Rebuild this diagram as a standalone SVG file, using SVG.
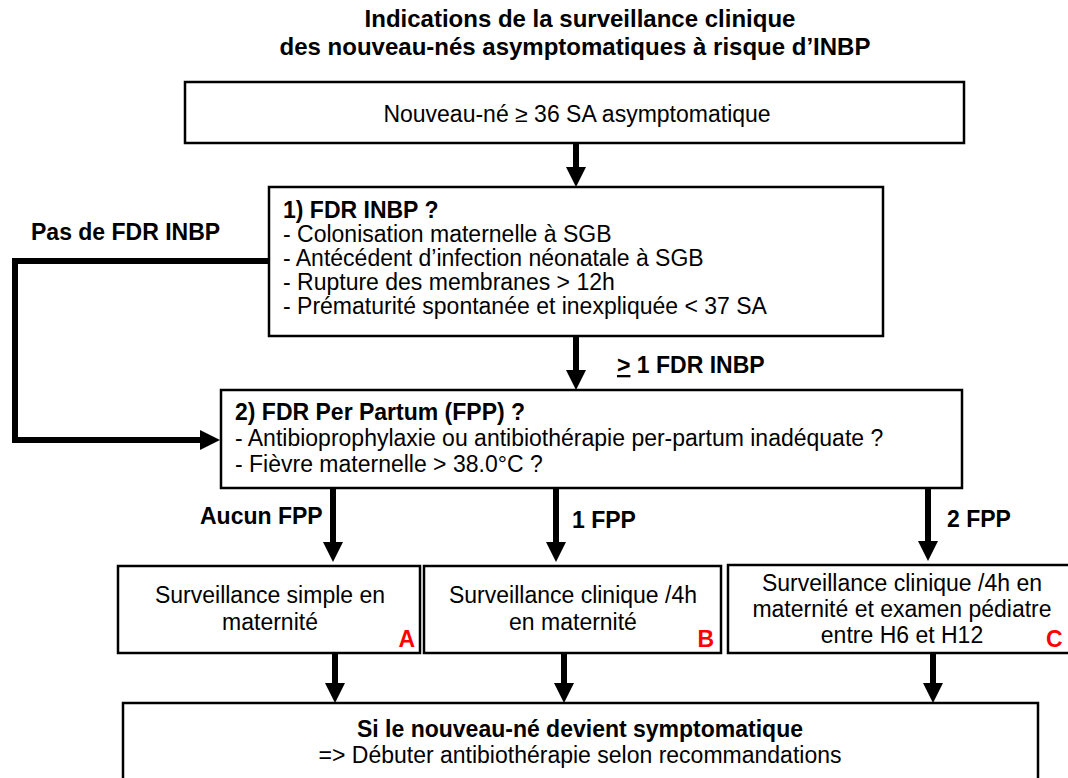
<svg xmlns="http://www.w3.org/2000/svg" width="1068" height="778" viewBox="0 0 1068 778">
<defs>
<style>
text{font-family:"Liberation Sans",Arial,sans-serif;fill:#000}
.t{font-size:24px;font-weight:bold;text-anchor:middle}
.b{font-size:23px}
.bb{font-size:23px;font-weight:bold}
.c{text-anchor:middle}
.r{font-size:23px;font-weight:bold;fill:#ff0000}
.box{fill:#fff;stroke:#000;stroke-width:2.5}
.con{fill:none;stroke:#000;stroke-width:6;stroke-linejoin:miter}
</style>
<marker id="ah" markerUnits="userSpaceOnUse" markerWidth="20" markerHeight="20" refX="10" refY="10" orient="auto">
<path d="M0,0 L20,10 L0,20 Z" fill="#000"/>
</marker>
</defs>
<rect width="1068" height="778" fill="#fff"/>
<g id="title">
<text class="t" x="580" y="27">Indications de la surveillance clinique</text>
<text class="t" x="575" y="55">des nouveau-nés asymptomatiques à risque d’INBP</text>
</g>
<g id="connectors">
<path class="con" d="M576,143 V177" marker-end="url(#ah)"/>
<path class="con" d="M576,336 V380" marker-end="url(#ah)"/>
<path class="con" d="M269,261 H15 V440 H210" marker-end="url(#ah)"/>
<path class="con" d="M333,488 V552" marker-end="url(#ah)"/>
<path class="con" d="M556,486 V552" marker-end="url(#ah)"/>
<path class="con" d="M928,488 V551" marker-end="url(#ah)"/>
<path class="con" d="M335,653 V693" marker-end="url(#ah)"/>
<path class="con" d="M564,653 V693" marker-end="url(#ah)"/>
<path class="con" d="M933,653 V693" marker-end="url(#ah)"/>
<text class="bb" x="31" y="240">Pas de FDR INBP</text>
<text class="bb" x="617" y="373"><tspan text-decoration="underline">&gt;</tspan> 1 FDR INBP</text>
<text class="bb" x="200" y="524">Aucun FPP</text>
<text class="bb" x="572" y="528">1 FPP</text>
<text class="bb" x="947" y="527">2 FPP</text>
</g>
<g id="node-start">
<rect class="box" x="185" y="82" width="779" height="61"/>
<text class="b c" x="577" y="122">Nouveau-né ≥ 36 SA asymptomatique</text>
</g>
<g id="node-fdr-inbp">
<rect class="box" x="269" y="187" width="614" height="149"/>
<text class="bb" x="283" y="218">1) FDR INBP ?</text>
<text class="b" x="283" y="242">- Colonisation maternelle à SGB</text>
<text class="b" x="283" y="266">- Antécédent d’infection néonatale à SGB</text>
<text class="b" x="283" y="290">- Rupture des membranes &gt; 12h</text>
<text class="b" x="283" y="314">- Prématurité spontanée et inexpliquée &lt; 37 SA</text>
</g>
<g id="node-fpp">
<rect class="box" x="221" y="390" width="741" height="98"/>
<text class="bb" x="235" y="420">2) FDR Per Partum (FPP) ?</text>
<text class="b" x="235" y="446">- Antibioprophylaxie ou antibiothérapie per-partum inadéquate ?</text>
<text class="b" x="235" y="472">- Fièvre maternelle &gt; 38.0°C ?</text>
</g>
<g id="node-a">
<rect class="box" x="118" y="566" width="302" height="87"/>
<text class="b c" x="270" y="603">Surveillance simple en</text>
<text class="b c" x="270" y="630">maternité</text>
<text class="r" x="415" y="647" text-anchor="end">A</text>
</g>
<g id="node-b">
<rect class="box" x="424" y="566" width="297" height="87"/>
<text class="b c" x="573" y="603">Surveillance clinique /4h</text>
<text class="b c" x="573" y="630">en maternité</text>
<text class="r" x="714" y="647" text-anchor="end">B</text>
</g>
<g id="node-c">
<rect class="box" x="728" y="565" width="350" height="88"/>
<text class="b c" x="902" y="591">Surveillance clinique /4h en</text>
<text class="b c" x="902" y="617">maternité et examen pédiatre</text>
<text class="b c" x="902" y="643">entre H6 et H12</text>
<text class="r" x="1046" y="647">C</text>
</g>
<g id="node-end">
<rect class="box" x="123" y="703" width="915" height="90"/>
<text class="bb c" x="580" y="737">Si le nouveau-né devient symptomatique</text>
<text class="b c" x="580" y="763">=&gt; Débuter antibiothérapie selon recommandations</text>
</g>
</svg>
